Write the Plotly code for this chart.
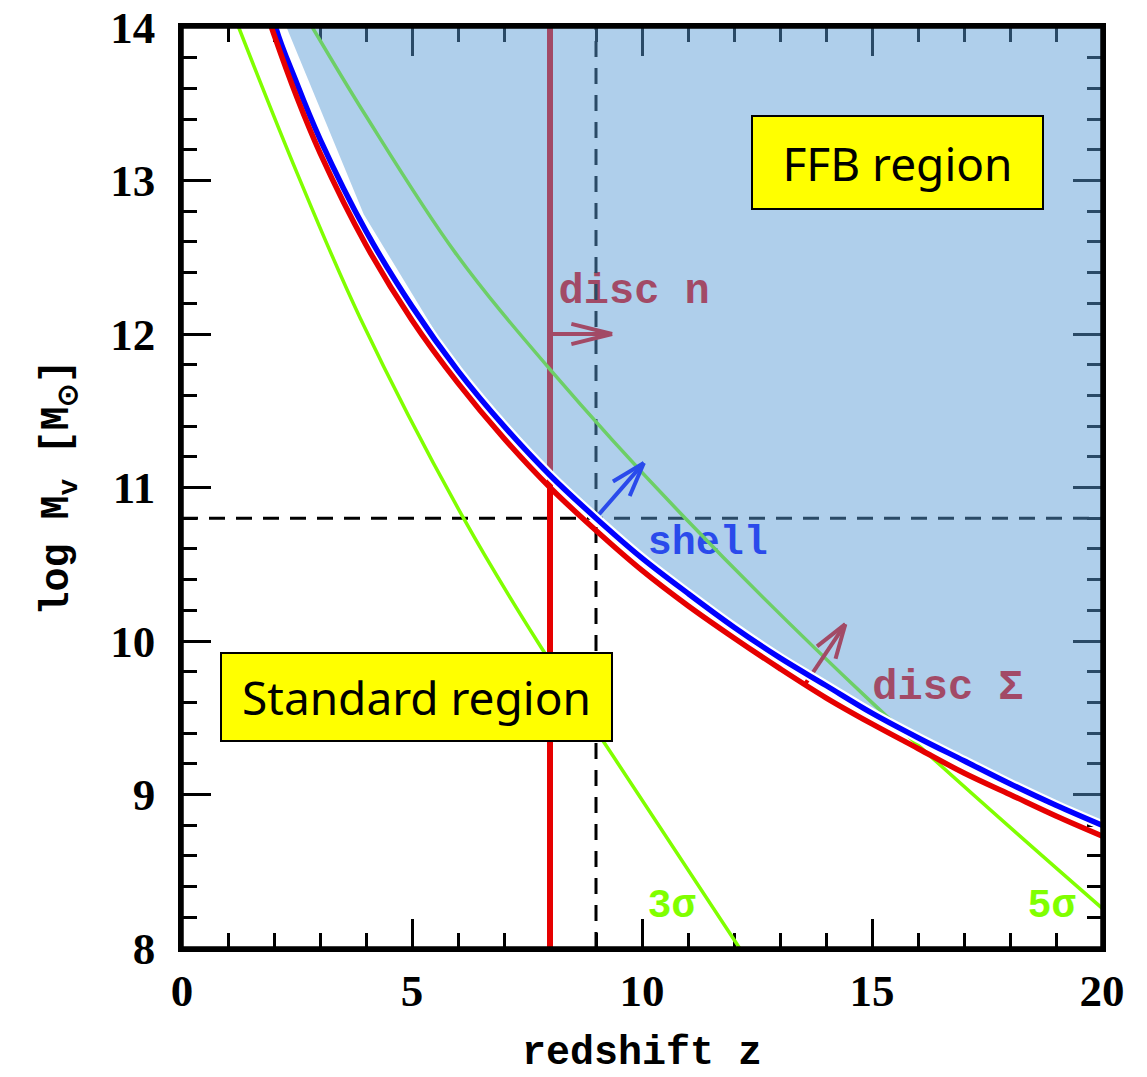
import math
import plotly.graph_objects as go

# ---------------- data ----------------
# FFB threshold curves: log halo mass vs redshift
z_curve = [1.9, 2.0, 2.5, 3, 4, 5, 6, 7, 8, 9, 10, 11, 12, 13, 14, 15, 16, 17, 18, 19, 20]
logM_shell = [14.33, 14.04, 13.63, 13.27, 12.67, 12.18, 11.76, 11.40, 11.08, 10.80, 10.54,
              10.31, 10.09, 9.89, 9.71, 9.53, 9.37, 9.22, 9.07, 8.93, 8.80]
logM_disc_sigma = [14.04, 13.95, 13.54, 13.18, 12.58, 12.09, 11.68, 11.32, 11.00, 10.72, 10.46,
                   10.23, 10.02, 9.82, 9.63, 9.46, 9.30, 9.14, 9.00, 8.86, 8.73]

# lower edge of the FFB region
z_ffb_edge = [2.27, 3.95, 6.0, 7, 8, 9, 10, 11, 12, 13, 14, 15, 16, 17, 18, 19, 20]
logM_ffb_edge = [14.0, 12.78, 11.77, 11.40, 11.08, 10.80, 10.54, 10.31, 10.09, 9.89, 9.71,
                 9.53, 9.37, 9.22, 9.07, 8.93, 8.80]

# 3 sigma and 5 sigma peaks
z_3sig = [1.23, 2.5, 3.88, 6.12, 7.72, 9.46, 12.12]
logM_3sig = [14.0, 13.05, 12.10, 10.8, 10.0, 9.21, 8.0]
z_5sig = [2.83, 4.0, 5.94, 8.0, 10.94, 14.96, 20.0]
logM_5sig = [14.0, 13.42, 12.53, 11.77, 10.8, 9.61, 8.26]

# disc-n threshold redshift, fiducial reference point
z_disc_n = 8.0
z_ref = 9.0
logM_ref = 10.8

# arrows: (start z, start logM, tip z, tip logM)
arrow_disc_n = (8.0, 12.0, 9.35, 12.0)
arrow_shell = (9.02, 10.81, 10.04, 11.16)
arrow_disc_sigma = (13.55, 9.72, 14.42, 10.11)

# labels: text, z, logM
label_disc_n = ("disc n", 9.83, 12.27)
label_shell = ("shell", 11.43, 10.63)
label_disc_sigma = ("disc \u03a3", 16.65, 9.69)
label_3sig = ("3\u03c3", 10.64, 8.27)
label_5sig = ("5\u03c3", 18.9, 8.27)

box_ffb = ("FFB region", 15.56, 13.12)
box_standard = ("Standard region", 5.1, 9.635)

# ---------------- style ----------------
W, H = 1147, 1077
ML, MR, MT, MB = 182, 45, 27, 129
XR = [0, 20]
YR = [8, 14]
PX_Z = (W - ML - MR) / (XR[1] - XR[0])
PX_Y = (H - MT - MB) / (YR[1] - YR[0])

RED = "#e60000"
BLUE = "#0000ff"
LIME = "#80ff00"
FILL = "rgba(88,154,214,0.48)"
MONO = "Liberation Mono"
SERIF = "Liberation Serif"


def chevron(start_z, start_y, tip_z, tip_y, arm_px=34, half_angle_deg=20):
    """Shaft plus an open V head, built in pixel space then mapped back to data."""
    dx = (tip_z - start_z) * PX_Z
    dy = (tip_y - start_y) * PX_Y
    n = math.hypot(dx, dy)
    ux, uy = -dx / n, -dy / n
    xs = [start_z, tip_z, None]
    ys = [start_y, tip_y, None]
    for sgn in (1, -1):
        a = math.radians(half_angle_deg) * sgn
        bx = ux * math.cos(a) - uy * math.sin(a)
        by = ux * math.sin(a) + uy * math.cos(a)
        xs += [tip_z + bx * arm_px / PX_Z, tip_z, None]
        ys += [tip_y + by * arm_px / PX_Y, tip_y, None]
    return xs, ys


fig = go.Figure()


def add_text(label, color, size=42):
    txt, zx, yy = label
    fig.add_trace(go.Scatter(
        x=[zx], y=[yy], mode="text", text=[txt], textposition="middle center",
        textfont=dict(family=MONO, size=size, color=color, weight=700),
        hoverinfo="skip", showlegend=False, cliponaxis=False))


# labels sit underneath the lines and the shaded region
add_text(label_disc_n, RED)
add_text(label_shell, BLUE, size=40)
add_text(label_disc_sigma, RED)
add_text(label_3sig, LIME, size=40)
add_text(label_5sig, LIME, size=40)

# dashed reference lines
fig.add_trace(go.Scatter(x=XR, y=[logM_ref, logM_ref], mode="lines",
                         line=dict(color="black", width=3, dash="16px,11px"),
                         hoverinfo="skip", showlegend=False))
fig.add_trace(go.Scatter(x=[z_ref, z_ref], y=YR, mode="lines",
                         line=dict(color="black", width=3, dash="16px,11px"),
                         hoverinfo="skip", showlegend=False))

# disc n: vertical redshift threshold
fig.add_trace(go.Scatter(x=[z_disc_n, z_disc_n], y=YR, mode="lines",
                         line=dict(color=RED, width=6), hoverinfo="skip", showlegend=False))

# peak-height curves
for zs, ms in ((z_3sig, logM_3sig), (z_5sig, logM_5sig)):
    fig.add_trace(go.Scatter(x=zs, y=ms, mode="lines",
                             line=dict(color=LIME, width=3.5, shape="spline", smoothing=1.0),
                             hoverinfo="skip", showlegend=False))

# arrows
for arr, col, arm, ang in ((arrow_disc_n, RED, 42, 14), (arrow_shell, BLUE, 36, 18),
                           (arrow_disc_sigma, RED, 36, 18)):
    ax, ay = chevron(*arr, arm_px=arm, half_angle_deg=ang)
    fig.add_trace(go.Scatter(x=ax, y=ay, mode="lines",
                             line=dict(color=col, width=4),
                             hoverinfo="skip", showlegend=False))

# shaded FFB region (translucent, on top of the items above)
fx = z_ffb_edge + [XR[1], z_ffb_edge[0]]
fy = logM_ffb_edge + [YR[1], logM_ffb_edge[0]]
fig.add_trace(go.Scatter(x=fx, y=fy, mode="lines", fill="toself", fillcolor=FILL,
                         line=dict(width=0, color="rgba(0,0,0,0)"),
                         hoverinfo="skip", showlegend=False))

# threshold curves on top
fig.add_trace(go.Scatter(x=z_curve, y=logM_shell, mode="lines",
                         line=dict(color="white", width=10, shape="spline"),
                         hoverinfo="skip", showlegend=False))
fig.add_trace(go.Scatter(x=z_curve, y=logM_shell, mode="lines",
                         line=dict(color=BLUE, width=5.5, shape="spline"),
                         hoverinfo="skip", showlegend=False))
fig.add_trace(go.Scatter(x=z_curve, y=logM_disc_sigma, mode="lines",
                         line=dict(color=RED, width=5.5, shape="spline"),
                         hoverinfo="skip", showlegend=False))

# region boxes
for (txt, zx, yy), bw, bh in ((box_ffb, 289, 91), (box_standard, 389, 86)):
    fig.add_annotation(x=zx, y=yy, xref="x", yref="y", text=txt, showarrow=False,
                       xanchor="center", yanchor="middle", width=bw, height=bh,
                       bgcolor="#ffff00", bordercolor="black", borderwidth=2, borderpad=0,
                       font=dict(family="Noto Sans", size=46, color="black"))

# plot frame above everything
fig.add_shape(type="rect", xref="paper", yref="paper", x0=0, y0=0, x1=1, y1=1,
              line=dict(color="black", width=3.5), layer="above")

axis_common = dict(
    showgrid=False, zeroline=False, showline=True, linecolor="black", linewidth=3.5,
    mirror="allticks", ticks="inside", ticklen=29, tickwidth=3, tickcolor="black",
    layer="below traces", ticklabeloverflow="allow", automargin=False,
    tickfont=dict(family=SERIF, size=45, color="black", weight=700),
)

fig.update_xaxes(range=XR, tickmode="array", tickvals=[0, 5, 10, 15, 20],
                 minor=dict(ticks="inside", dtick=1, tick0=0, ticklen=15, tickwidth=3,
                            tickcolor="black"),
                 ticklabelstandoff=0,
                 title=dict(text="redshift z", standoff=22,
                            font=dict(family=MONO, size=40, color="black", weight=700)),
                 **axis_common)
fig.update_yaxes(range=YR, tickmode="array", tickvals=[8, 9, 10, 11, 12, 13, 14],
                 minor=dict(ticks="inside", dtick=0.2, tick0=8, ticklen=15, tickwidth=3,
                            tickcolor="black"),
                 ticklabelstandoff=14,
                 title=dict(text="log M<sub>v</sub> [M<sub>\u2299</sub>]", standoff=30,
                            font=dict(family=MONO, size=40, color="black", weight=700)),
                 **axis_common)

fig.update_layout(width=W, height=H, margin=dict(l=ML, r=MR, t=MT, b=MB),
                  paper_bgcolor="white", plot_bgcolor="white", showlegend=False)

fig.write_html("out.html")
